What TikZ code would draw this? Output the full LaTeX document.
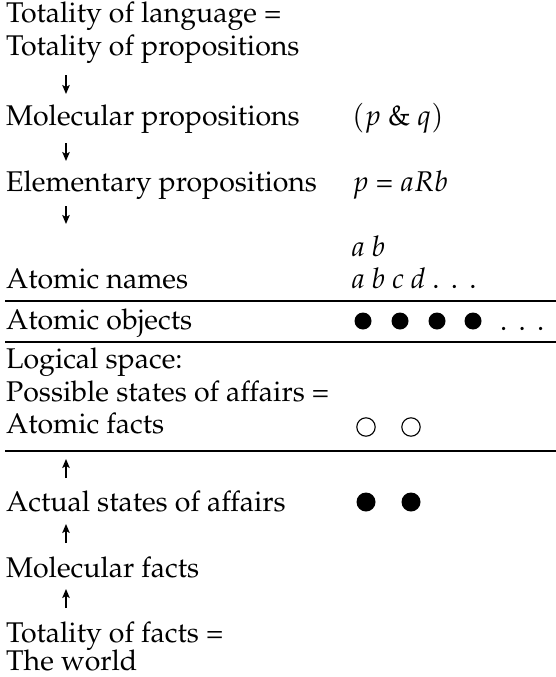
\documentclass[tikz,border=0pt]{standalone}
\usepackage[T1]{fontenc}
\usepackage{mathpazo}
\usetikzlibrary{arrows.meta}
\newcommand{\tdots}{.\hspace{0.4em}.\hspace{0.4em}.}
\begin{document}
\begin{tikzpicture}[x=1pt,y=-1pt,
  lbl/.style={anchor=base west,inner sep=0pt,font=\fontsize{28.5}{33}\selectfont},
  sep/.style={line width=1.8pt},
  darr/.style={line width=1.5pt,-{Stealth[length=9pt,width=7.5pt,inset=2pt]}},
  full/.style={fill=black,draw=none},
  hollow/.style={draw=black,line width=1.1pt,fill=none}]
\useasboundingbox (0,0) rectangle (556,677);
% left column
\node[lbl] (t1) at (6,23) {Totality of language =};
\node[lbl] (t2) at (6,56) {Totality of propositions};
\node[lbl] (t3) at (6,125) {Molecular propositions};
\node[lbl] (t4) at (6,191) {Elementary propositions};
\node[lbl] (t6) at (6,288) {Atomic names};
\node[lbl] (t7) at (6,329) {Atomic objects};
\node[lbl] (t8) at (6,368) {Logical space:};
\node[lbl] (t9) at (6,401) {Possible states of affairs =};
\node[lbl] (t10) at (6,433) {Atomic facts};
\node[lbl] (t11) at (6,511) {Actual states of affairs};
\node[lbl] (t12) at (6,577) {Molecular facts};
\node[lbl] (t13) at (6,642) {Totality of facts =};
\node[lbl] (t14) at (6,670) {The world};
% right column
\node[lbl] (r3) at (352,125) {$(p$ \& $q)$};
\node[lbl] (r4) at (352,191) {$p$ = $aRb$};
\node[lbl] (r5) at (352,256) {\textit{a b}};
\node[lbl] (r6) at (352,288) {\textit{a b c d} \tdots};
\node[lbl] (r7) at (500,330) {\tdots};
% separators
\coordinate (s1a) at (5,301); \coordinate (s1b) at (556,301);
\coordinate (s2a) at (5,342); \coordinate (s2b) at (556,342);
\coordinate (s3a) at (5,451); \coordinate (s3b) at (556,451);
\draw[sep] (s1a) -- (s1b);
\draw[sep] (s2a) -- (s2b);
\draw[sep,line width=2.2pt] (s3a) -- (s3b);
% arrows
\coordinate (a1s) at (66,75); \coordinate (a1e) at (66,94);
\coordinate (a2s) at (66,143); \coordinate (a2e) at (66,161);
\coordinate (a3s) at (66,206); \coordinate (a3e) at (66,224);
\coordinate (u1s) at (66,478); \coordinate (u1e) at (66,459);
\coordinate (u2s) at (66,543); \coordinate (u2e) at (66,524);
\coordinate (u3s) at (66,608); \coordinate (u3e) at (66,589);
\draw[darr] (a1s) -- (a1e);
\draw[darr] (a2s) -- (a2e);
\draw[darr] (a3s) -- (a3e);
\draw[darr] (u1s) -- (u1e);
\draw[darr] (u2s) -- (u2e);
\draw[darr] (u3s) -- (u3e);
% objects
\fill[full] (363,321) circle (8.5);
\fill[full] (400,321) circle (8.5);
\fill[full] (437,321) circle (8.5);
\fill[full] (473,321) circle (8.5);
\draw[hollow] (366,427) circle (9.2);
\draw[hollow] (411,427) circle (9.2);
\fill[full] (366,502) circle (9.5);
\fill[full] (411,502) circle (9.5);
\end{tikzpicture}
\end{document}
